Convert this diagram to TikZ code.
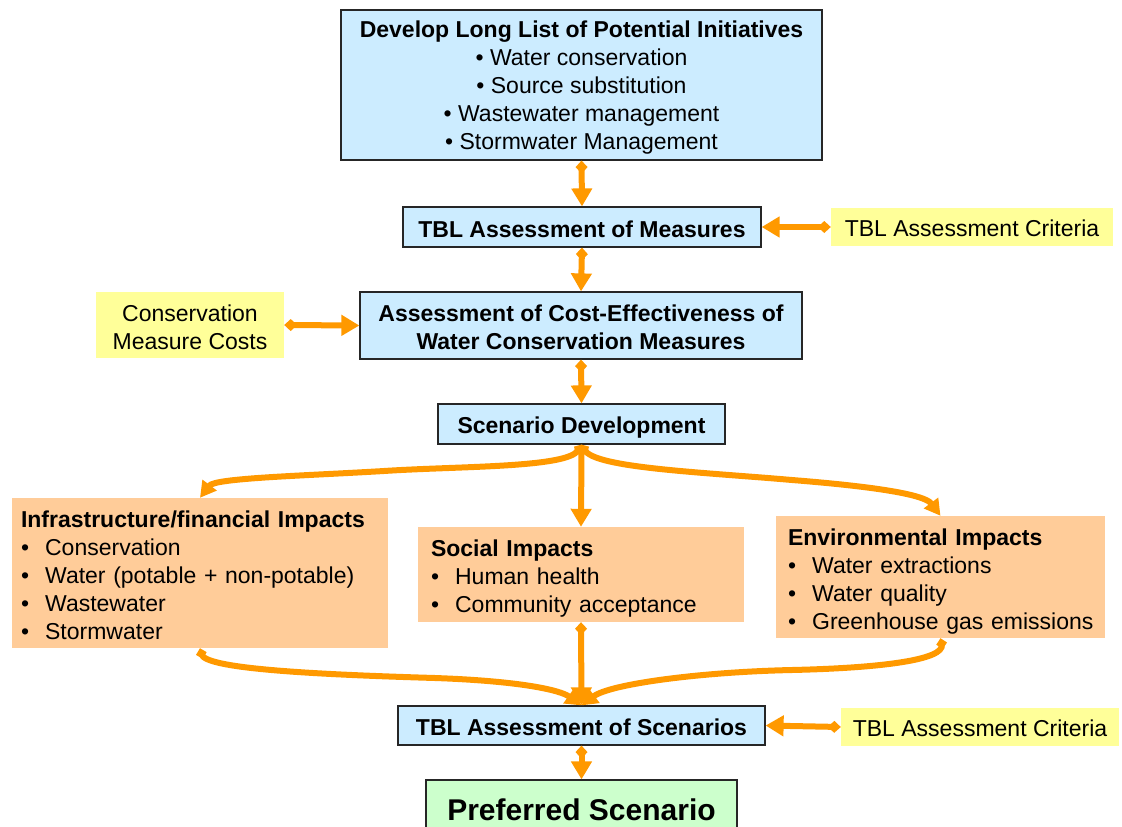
\documentclass[tikz,border=0pt]{standalone}
\usepackage{fontspec}
\setmainfont{Liberation Sans}
\usetikzlibrary{arrows.meta}

\definecolor{flow}{HTML}{FF9900}
\definecolor{boxblue}{HTML}{CCECFF}
\definecolor{boxyel}{HTML}{FFFF99}
\definecolor{boxorg}{HTML}{FFCC99}
\definecolor{boxgrn}{HTML}{CCFFCC}

% one bulleted line, kept unbroken
\newcommand\itm[1]{\mbox{\makebox[1.05em][l]{•}#1}}

\begin{document}
\begin{tikzpicture}[x=1pt,y=-1pt,
  % boxes
  stage/.style={draw=black!85, line width=1.2pt, fill=boxblue, inner sep=0pt},
  inputbox/.style={fill=boxyel, inner sep=0pt},
  impact/.style={fill=boxorg, inner sep=0pt},
  finalbox/.style={draw=black!85, line width=1.2pt, fill=boxgrn, inner sep=0pt},
  % texts inside the boxes
  txt/.style={font=\fontsize{23}{28}\selectfont, inner sep=0pt, align=center},
  boldtxt/.style={txt, font=\fontsize{23}{28}\selectfont\bfseries},
  listtxt/.style={txt, align=left},
  bigtxt/.style={txt, font=\fontsize{30}{34}\selectfont\bfseries},
  % connectors
  flowarrow/.style={draw=flow, line width=6pt,
    {Diamond[width=12pt,length=13pt]}-{Triangle[width=20pt,length=18pt]}},
  curvearrow/.style={draw=flow, line width=6pt,
    {Diamond[width=11pt,length=11pt]}-{Triangle[width=17pt,length=16pt]}}
]
\useasboundingbox (0,0) rectangle (1122,827);

% stages of the process
\node[stage, minimum width=481pt, minimum height=150pt] (list) at (581.5,85) {};
\node[txt] (list-t) at ([yshift=-3pt]list.center)
  {\textbf{Develop Long List of Potential Initiatives}\\
   • Water conservation\\
   • Source substitution\\
   • Wastewater management\\
   • Stormwater Management};

\node[stage, minimum width=358pt, minimum height=40pt] (meas) at (582,227) {};
\node[boldtxt] (meas-t) at ([yshift=-2pt]meas.center) {TBL Assessment of Measures};

\node[inputbox, minimum width=282pt, minimum height=38pt] (crit1) at (972,227) {};
\node[txt] (crit1-t) at ([yshift=-1.5pt]crit1.center) {TBL Assessment Criteria};

\node[inputbox, minimum width=188pt, minimum height=66pt] (costs) at (190,325) {};
\node[txt] (costs-t) at ([yshift=-2pt]costs.center) {Conservation\\Measure Costs};

\node[stage, minimum width=442pt, minimum height=67pt] (ceff) at (581,325.5) {};
\node[boldtxt] (ceff-t) at ([yshift=-2pt]ceff.center)
  {Assessment of Cost-Effectiveness of\\Water Conservation Measures};

\node[stage, minimum width=287pt, minimum height=40pt] (sd) at (581.5,424) {};
\node[boldtxt] (sd-t) at ([yshift=-4pt]sd.center) {Scenario Development};

% impact groups
\node[impact, minimum width=376pt, minimum height=150pt] (infra) at (200,573) {};
\node[listtxt, text width=358pt] (infra-t) at ([yshift=-2.5pt]infra.center)
  {\textbf{Infrastructure/financial Impacts}\\
   \itm{Conservation}\\
   \itm{Water (potable + non-potable)}\\
   \itm{Wastewater}\\
   \itm{Stormwater}};

\node[impact, minimum width=326pt, minimum height=95pt] (social) at (581,574.5) {};
\node[listtxt, text width=300pt] (social-t) at ([yshift=-4pt]social.center)
  {\textbf{Social Impacts}\\
   \itm{Human health}\\
   \itm{Community acceptance}};

\node[impact, minimum width=329pt, minimum height=122pt] (env) at (940.5,577) {};
\node[listtxt, text width=305pt] (env-t) at ([yshift=-4.5pt]env.center)
  {\textbf{Environmental Impacts}\\
   \itm{Water extractions}\\
   \itm{Water quality}\\
   \itm{Greenhouse gas emissions}};

% scenario assessment and outcome
\node[stage, minimum width=367pt, minimum height=39pt] (scen) at (581.5,725.5) {};
\node[boldtxt] (scen-t) at ([yshift=-2pt]scen.center) {TBL Assessment of Scenarios};

\node[inputbox, minimum width=278pt, minimum height=38pt] (crit2) at (980,727) {};
\node[txt] (crit2-t) at ([yshift=-1pt]crit2.center) {TBL Assessment Criteria};

\node[finalbox, minimum width=311pt, minimum height=56pt] (pref) at (581.5,808) {};
\node[bigtxt] (pref-t) at ([yshift=-1.5pt]pref.center) {Preferred Scenario};

% straight connectors
\draw[flowarrow] (list.south) -- (meas.north);
\draw[flowarrow] (crit1.west) -- (meas.east);
\draw[flowarrow] (meas.south) -- (ceff.north);
\draw[flowarrow] (costs.east) -- (ceff.west);
\draw[flowarrow] (ceff.south) -- (sd.north);
\draw[flowarrow] (sd.south) -- (social.north);
\draw[flowarrow] (social.south) -- (scen.north);
\draw[flowarrow] (crit2.west) -- (scen.east);
\draw[flowarrow] (scen.south) -- (pref.north);

% curved connectors to and from the side groups
\draw[curvearrow] (sd.south) .. controls (568,468) and (460,466) .. (384,471)
  .. controls (300,476) and (215,478) .. (infra.north);
\draw[curvearrow] (sd.south) .. controls (595,468) and (700,472) .. (792,480)
  .. controls (880,487) and (925,495) .. (env.north);
\draw[curvearrow] (infra.south) .. controls (205,668) and (300,674) .. (435,678)
  .. controls (520,681) and (560,690) .. (scen.north);
\draw[curvearrow] (env.south) .. controls (945,660) and (880,668) .. (792,670)
  .. controls (700,672) and (610,684) .. (scen.north);
\end{tikzpicture}
\end{document}
